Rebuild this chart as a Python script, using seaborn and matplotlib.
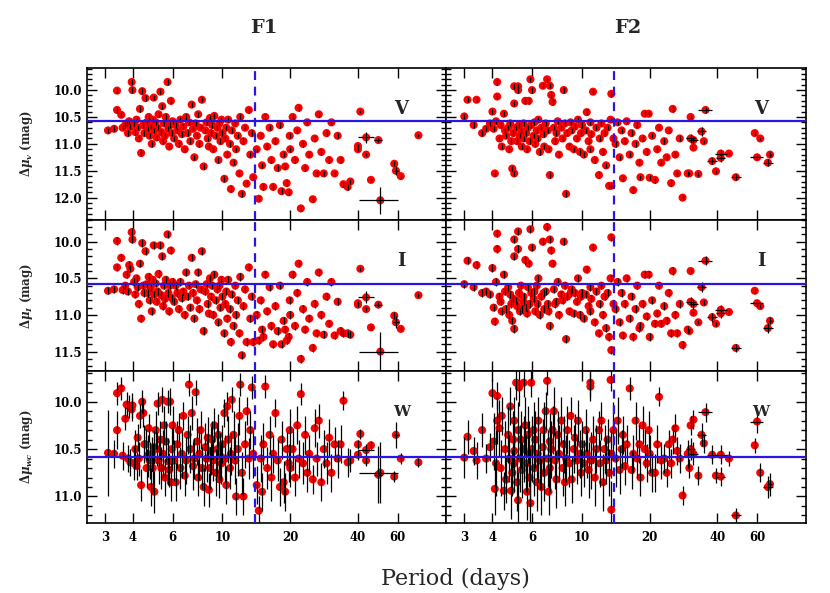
import matplotlib
matplotlib.use('Agg')
import matplotlib.pyplot as plt
from matplotlib.ticker import FixedLocator, FuncFormatter, MultipleLocator, NullLocator, FormatStrFormatter
import pandas as pd
import seaborn as sns

# ---------------- F1 field, ordinary stars ----------------
f1_per = [3.1, 3.4, 3.4, 3.55, 3.3, 3.6, 3.7, 3.75, 3.8, 3.85, 3.9, 3.95, 3.98,
          4.05, 4.1, 4.15, 4.2, 4.25, 4.3, 4.35, 4.4, 4.45, 4.5, 4.55, 4.6, 4.65, 4.7, 4.75, 4.8, 4.85, 4.9, 4.95, 4.98,
          5.05, 5.1, 5.15, 5.2, 5.3, 5.35, 5.4, 5.45, 5.5, 5.55, 5.6, 5.7, 5.75, 5.8, 5.85, 5.9, 5.95, 6.0,
          6.1, 6.2, 6.3, 6.4, 6.5, 6.6, 6.7, 6.8, 6.9, 7.0, 7.1, 7.2, 7.3, 7.4, 7.5, 7.6, 7.7, 7.8, 7.9, 8.0, 8.1, 8.25,
          8.4, 8.5, 8.6, 8.7, 8.8, 8.9, 9.0, 9.1, 9.2, 9.35, 9.5, 9.6, 9.7, 9.8, 9.9, 10.0,
          10.2, 10.3, 10.4, 10.5, 10.6, 10.8, 10.9, 11.0, 11.2, 11.4, 11.5, 11.7, 11.9, 12.0, 12.2, 12.4, 12.6, 12.8, 13.1, 13.3, 13.5, 13.7,
          14.2, 14.5, 14.8, 15.0, 15.2, 15.5, 15.8, 16.2, 16.5, 16.8, 17.2, 17.6, 18.0, 18.3, 18.7, 19.0, 19.3, 19.7, 19.9, 20.0,
          20.5, 21.0, 21.5, 21.8, 22.3, 22.8, 23.3, 23.8, 24.3, 25.2, 25.7, 26.2, 26.8, 27.5, 28.2, 29.0, 29.8, 30.5,
          31.5, 32.5, 33.5, 34.5, 36.0, 37.0]
f1_v = [10.75, 10.01, 10.37, 10.46, 10.72, 10.7, 10.65, 10.62, 10.8, 10.58, 10.68, 9.85, 10.0,
        10.62, 10.78, 10.55, 10.7, 10.9, 10.35, 11.17, 10.02, 10.65, 10.8, 10.15, 10.6, 10.72, 10.5, 10.85, 10.68, 11.0, 10.55, 10.14, 10.75,
        10.6, 10.88, 10.7, 10.45, 10.03, 10.78, 10.3, 10.95, 10.62, 10.85, 10.5, 9.85, 10.72, 11.05, 10.65, 10.2, 10.8, 10.58,
        10.9, 10.65, 10.75, 11.0, 10.55, 10.82, 10.68, 11.1, 10.5, 10.8, 10.6, 10.95, 10.27, 10.72, 11.25, 10.62, 10.85, 10.45, 11.0, 10.7, 10.18, 11.42,
        10.75, 10.6, 10.9, 11.05, 10.52, 10.8, 10.65, 11.1, 10.48, 10.85, 10.7, 11.3, 10.62, 10.95, 10.55, 10.8,
        11.65, 10.9, 10.7, 11.2, 10.55, 11.0, 11.84, 10.75, 11.35, 10.62, 11.1, 10.85, 11.55, 10.5, 11.93, 10.95, 10.7, 11.74, 10.37, 11.2, 10.8, 11.62,
        11.1, 12.02, 10.85, 11.4, 11.8, 10.5, 11.05, 10.7, 11.3, 11.8, 10.95, 11.45, 10.65, 11.88, 11.2, 11.42, 11.73, 11.9, 10.85, 11.1,
        10.5, 11.3, 10.75, 10.33, 12.2, 11.0, 11.45, 10.6, 11.2, 12.03, 10.9, 11.55, 10.45, 11.15, 11.55, 10.8, 11.3, 10.6,
        11.55, 10.85, 11.3, 11.75, 11.8, 11.7]
f1_i = [10.67, 9.99, 10.35, 10.22, 10.65, 10.66, 10.6, 10.45, 10.68, 10.32, 10.37, 9.87, 9.97,
        10.55, 10.72, 10.5, 10.62, 10.85, 10.3, 11.05, 10.02, 10.6, 10.7, 10.13, 10.58, 10.7, 10.48, 10.8, 10.63, 10.95, 10.52, 10.05, 10.72,
        10.57, 10.82, 10.68, 10.44, 10.05, 10.73, 10.2, 10.88, 10.6, 10.78, 10.52, 9.9, 10.7, 10.95, 10.6, 10.12, 10.77, 10.55,
        10.82, 10.6, 10.7, 10.92, 10.55, 10.77, 10.68, 11.0, 10.42, 10.75, 10.6, 10.9, 10.22, 10.7, 11.05, 10.58, 10.8, 10.42, 10.92, 10.65, 10.13, 11.22,
        10.68, 10.58, 10.85, 10.98, 10.5, 10.75, 10.6, 11.0, 10.45, 10.8, 10.65, 11.1, 10.6, 10.9, 10.52, 10.75,
        11.25, 10.85, 10.68, 11.05, 10.52, 10.92, 11.37, 10.72, 11.15, 10.6, 11.0, 10.8, 11.25, 10.48, 11.55, 10.88, 10.65, 11.37, 10.35, 11.05, 10.75, 11.37,
        11.0, 11.35, 10.8, 11.2, 11.3, 10.45, 10.95, 10.62, 11.15, 11.4, 10.88, 11.22, 10.6, 11.4, 11.08, 11.2, 11.35, 11.3, 10.8, 11.0,
        10.45, 11.15, 10.7, 10.3, 11.6, 10.92, 11.2, 10.55, 11.05, 11.45, 10.85, 11.25, 10.42, 11.0, 11.27, 10.75, 11.12, 10.55,
        11.28, 10.82, 11.22, 11.25, 11.25, 11.27]
f1_w = [10.54, 10.3, 9.91, 9.86, 10.55, 10.57, 10.18, 10.03, 10.6, 10.05, 10.64, 10.08, 10.04,
        10.65, 10.5, 10.68, 10.38, 10.6, 10.15, 10.88, 10.0, 10.12, 10.45, 10.45, 10.7, 10.57, 10.28, 10.62, 10.9, 10.55, 10.7, 10.48, 10.95,
        10.3, 10.5, 10.02, 10.62, 10.4, 10.7, 9.98, 10.55, 10.25, 10.8, 10.42, 10.0, 10.63, 10.72, 10.0, 10.85, 10.5, 10.25,
        10.62, 10.85, 10.45, 10.3, 10.7, 10.55, 10.15, 10.78, 10.62, 10.35, 9.82, 10.5, 10.12, 10.68, 10.6, 9.9, 10.42, 10.8, 10.55, 10.3, 10.7, 10.9,
        10.48, 10.6, 10.38, 10.93, 10.7, 10.52, 10.4, 10.62, 10.25, 10.75, 10.5, 10.35, 10.82, 10.58, 10.65, 10.45,
        10.12, 10.6, 10.88, 10.05, 10.4, 10.7, 10.55, 9.98, 10.35, 10.62, 11.0, 10.5, 10.15, 9.82, 10.75, 11.0, 10.45, 10.1, 10.6, 10.3, 9.85, 10.55,
        10.88, 11.15, 10.6, 10.95, 10.45, 9.84, 10.7, 10.35, 10.8, 10.55, 10.12, 10.62, 10.9, 10.4, 10.85, 10.95, 10.5, 10.65, 10.3, 10.7,
        10.5, 10.8, 10.25, 10.6, 9.92, 10.65, 10.35, 10.75, 10.55, 10.82, 10.28, 10.6, 10.2, 10.85, 10.5, 10.65, 10.38, 10.75,
        10.45, 10.6, 10.45, 9.99, 10.64, 10.62]
f1_ew = [0.45, 0.2, 0.12, 0.12, 0.15, 0.15, 0.12, 0.13, 0.14, 0.12, 0.14, 0.12, 0.13,
         0.18, 0.2, 0.15, 0.14, 0.18, 0.13, 0.17, 0.12, 0.15, 0.2, 0.16, 0.2, 0.22, 0.15, 0.2, 0.2, 0.18, 0.25, 0.18, 0.22,
         0.2, 0.18, 0.12, 0.25, 0.2, 0.22, 0.13, 0.25, 0.2, 0.2, 0.22, 0.12, 0.25, 0.18, 0.14, 0.2, 0.22, 0.2,
         0.22, 0.2, 0.25, 0.18, 0.22, 0.25, 0.15, 0.22, 0.25, 0.2, 0.12, 0.25, 0.18, 0.25, 0.22, 0.13, 0.25, 0.2, 0.28, 0.2, 0.22, 0.2,
         0.25, 0.25, 0.22, 0.18, 0.22, 0.25, 0.2, 0.22, 0.18, 0.25, 0.28, 0.22, 0.2, 0.25, 0.22, 0.2,
         0.15, 0.25, 0.2, 0.15, 0.25, 0.22, 0.22, 0.13, 0.25, 0.25, 0.2, 0.28, 0.2, 0.12, 0.22, 0.2, 0.25, 0.15, 0.22, 0.2, 0.12, 0.25,
         0.2, 0.15, 0.25, 0.2, 0.22, 0.12, 0.22, 0.2, 0.25, 0.2, 0.15, 0.22, 0.2, 0.2, 0.22, 0.2, 0.18, 0.2, 0.22, 0.2,
         0.22, 0.2, 0.2, 0.2, 0.12, 0.22, 0.2, 0.2, 0.2, 0.15, 0.2, 0.18, 0.18, 0.2, 0.2, 0.22, 0.2, 0.2,
         0.18, 0.2, 0.2, 0.1, 0.15, 0.12]

# F1 long-period stars (period errors visible)
f1_lp_per = [40.0, 40.0, 41.0, 43.5, 43.5, 45.7, 49.3, 50.3, 58.0, 59.0, 62.0, 74.3]
f1_lp_eper = [0, 0, 0, 3.5, 0, 0, 2.0, 10.0, 0, 2.0, 0, 0]
f1_lp_v = [11.04, 11.1, 10.4, 10.88, 11.2, 11.67, 10.93, 12.05, 11.37, 11.5, 11.6, 10.84]
f1_lp_ev = [0.03, 0.03, 0.03, 0.1, 0.03, 0.03, 0.03, 0.25, 0.05, 0.08, 0.03, 0.03]
f1_lp_i = [10.84, 10.86, 10.37, 10.76, 10.92, 11.17, 10.86, 11.5, 11.01, 11.1, 11.19, 10.73]
f1_lp_ei = [0.03, 0.03, 0.03, 0.08, 0.03, 0.03, 0.03, 0.27, 0.05, 0.08, 0.03, 0.03]
f1_lp_w = [10.45, 10.56, 10.34, 10.51, 10.62, 10.46, 10.77, 10.75, 10.79, 10.35, 10.6, 10.64]
f1_lp_ew = [0.05, 0.05, 0.05, 0.06, 0.06, 0.05, 0.3, 0.32, 0.06, 0.14, 0.06, 0.05]

# ---------------- F2 field, ordinary stars ----------------
f2_per = [3.0, 3.1, 3.3, 3.4, 3.6, 3.75, 3.9,
          4.0, 4.05, 4.1, 4.15, 4.2, 4.2, 4.3, 4.35, 4.4, 4.5, 4.55, 4.6, 4.7, 4.75, 4.8, 4.85, 4.9, 4.95,
          5.0, 5.0, 5.0, 5.1, 5.15, 5.2, 5.2, 5.25, 5.3, 5.35, 5.4, 5.5, 5.5, 5.6, 5.65, 5.7, 5.75, 5.8, 5.85, 5.9, 5.95, 6.0,
          6.1, 6.15, 6.2, 6.3, 6.35, 6.4, 6.5, 6.6, 6.7, 6.75, 6.8, 6.9, 7.0, 7.05, 7.1, 7.2, 7.2, 7.3, 7.4, 7.5, 7.6, 7.7, 7.8, 7.9,
          8.1, 8.2, 8.3, 8.4, 8.5, 8.6, 8.8, 8.9, 9.0, 9.2, 9.3, 9.5, 9.6, 9.8, 9.9, 10.0,
          10.2, 10.4, 10.5, 10.7, 10.9, 10.9, 11.0, 11.2, 11.4, 11.6, 11.9, 12.0, 12.2, 12.4, 12.6, 12.8, 13.0, 13.2, 13.4, 13.5, 13.5, 13.8,
          14.1, 14.4, 14.7, 15.0, 15.2, 15.5, 15.8, 16.3, 16.6, 16.9, 17.3, 17.6, 18.0, 18.2, 18.6, 19.0, 19.4, 19.8, 20.0, 20.5,
          21.1, 21.6, 22.0, 22.5, 23.2, 23.8, 24.3, 24.9, 25.3, 26.0, 26.5, 27.2, 28.0, 29.5]
f2_v = [10.49, 10.18, 10.65, 10.18, 10.8, 10.72, 10.62,
        10.4, 10.72, 11.55, 10.58, 9.85, 10.12, 10.9, 10.65, 11.05, 10.44, 10.75, 10.85, 10.7, 11.1, 10.62, 10.95, 11.46, 10.8,
        9.93, 11.55, 10.25, 10.7, 10.95, 9.93, 10.0, 10.65, 10.85, 10.75, 11.05, 10.62, 10.9, 10.2, 10.8, 11.1, 10.7, 10.2, 10.95, 9.8, 10.65, 10.0,
        10.85, 10.6, 11.0, 10.75, 10.9, 10.55, 11.15, 10.7, 9.92, 10.82, 11.05, 10.62, 9.8, 10.75, 11.1, 9.92, 11.58, 10.09, 10.22, 10.7, 10.95, 10.8, 10.58, 11.2,
        10.7, 10.9, 10.0, 10.62, 11.93, 10.8, 11.05, 10.6, 10.75, 11.1, 10.68, 10.9, 10.55, 11.15, 10.8, 10.65,
        11.2, 10.75, 10.41, 10.95, 10.6, 11.1, 10.82, 10.03, 11.3, 10.7, 11.58, 10.9, 10.62, 11.15, 10.8, 11.4, 10.7, 11.78, 10.55, 10.07, 11.78, 10.9,
        11.0, 10.6, 11.25, 10.75, 11.64, 10.95, 10.58, 11.2, 10.8, 11.86, 11.0, 10.65, 11.35, 11.62, 10.9, 10.44, 11.15, 10.44, 11.63, 10.85,
        11.67, 11.1, 10.7, 11.35, 10.95, 11.25, 10.75, 11.73, 10.35, 11.2, 11.55, 10.9, 12.0, 11.55]
f2_i = [10.58, 10.26, 10.62, 10.32, 10.7, 10.68, 10.72,
        10.36, 10.9, 11.09, 10.55, 9.89, 10.1, 10.75, 10.82, 10.95, 10.45, 10.68, 10.92, 10.62, 11.0, 10.72, 10.85, 11.08, 10.78,
        9.97, 11.19, 10.2, 10.8, 10.88, 9.86, 10.1, 10.7, 10.95, 10.6, 10.92, 10.75, 10.82, 10.25, 10.9, 10.98, 10.62, 10.3, 10.85, 9.83, 10.7, 10.08,
        10.78, 10.68, 10.95, 10.6, 10.85, 10.5, 11.0, 10.75, 10.0, 10.7, 10.92, 10.68, 9.8, 10.85, 10.95, 9.97, 11.15, 10.12, 10.3, 10.65, 10.85, 10.82, 10.55, 11.0,
        10.72, 10.8, 10.0, 10.6, 11.33, 10.75, 10.95, 10.7, 10.65, 10.98, 10.7, 10.82, 10.5, 11.0, 10.75, 10.7,
        11.05, 10.72, 10.38, 10.88, 10.62, 10.95, 10.78, 10.08, 11.1, 10.68, 11.25, 10.85, 10.6, 11.0, 10.75, 11.18, 10.7, 11.3, 10.5, 9.94, 11.48, 10.85,
        10.92, 10.55, 11.1, 10.7, 11.28, 10.85, 10.5, 11.05, 10.75, 11.3, 10.92, 10.6, 11.18, 11.15, 10.85, 10.45, 11.02, 10.45, 11.3, 10.8,
        11.12, 10.98, 10.6, 11.12, 10.88, 11.08, 10.7, 11.25, 10.4, 11.0, 11.25, 10.85, 11.41, 11.2]
f2_w = [10.59, 10.37, 10.52, 10.62, 10.3, 10.6, 10.48,
        9.91, 10.42, 10.92, 10.65, 9.94, 10.2, 10.28, 10.7, 10.15, 10.94, 10.5, 10.82, 10.35, 10.6, 10.05, 10.94, 10.75, 10.4,
        10.65, 10.2, 10.52, 9.8, 10.85, 11.04, 10.3, 9.85, 10.6, 10.4, 10.72, 9.8, 10.5, 10.25, 10.65, 10.95, 10.35, 10.55, 10.8, 11.07, 9.8, 10.5,
        10.3, 10.7, 10.4, 10.85, 10.55, 10.2, 10.62, 10.9, 10.48, 10.3, 10.75, 10.1, 9.78, 10.6, 10.95, 10.42, 10.7, 10.5, 10.3, 10.1, 10.62, 10.82, 10.35, 10.55,
        10.2, 10.7, 10.45, 10.85, 10.6, 10.3, 10.65, 10.15, 10.82, 10.5, 10.38, 10.62, 10.2, 10.55, 10.75, 10.45,
        10.65, 10.3, 10.55, 10.72, 9.8, 9.84, 10.62, 10.4, 10.8, 10.5, 10.3, 10.65, 10.2, 10.85, 10.5, 10.62, 10.4, 10.75, 9.77, 11.14, 10.55, 10.3,
        10.6, 10.2, 10.72, 10.5, 10.35, 10.68, 10.45, 9.86, 10.72, 10.55, 10.2, 10.6, 10.45, 10.8, 10.25, 10.5, 10.65, 10.3, 10.55, 10.75,
        10.75, 10.45, 9.95, 10.62, 10.6, 10.75, 10.45, 10.65, 10.4, 10.28, 10.52, 10.6, 10.99, 10.55]
f2_ew = [0.22, 0.18, 0.15, 0.2, 0.18, 0.15, 0.15,
         0.15, 0.3, 0.28, 0.35, 0.15, 0.25, 0.3, 0.3, 0.2, 0.2, 0.3, 0.25, 0.3, 0.25, 0.2, 0.3, 0.25, 0.3,
         0.3, 0.25, 0.3, 0.18, 0.3, 0.3, 0.3, 0.2, 0.35, 0.3, 0.3, 0.15, 0.35, 0.3, 0.3, 0.3, 0.3, 0.35, 0.3, 0.3, 0.15, 0.35,
         0.3, 0.3, 0.3, 0.3, 0.3, 0.25, 0.3, 0.3, 0.3, 0.3, 0.3, 0.2, 0.15, 0.3, 0.25, 0.3, 0.25, 0.3, 0.25, 0.25, 0.3, 0.3, 0.25, 0.3,
         0.25, 0.3, 0.3, 0.25, 0.25, 0.25, 0.25, 0.2, 0.25, 0.25, 0.25, 0.25, 0.22, 0.25, 0.25, 0.25,
         0.25, 0.22, 0.25, 0.3, 0.15, 0.15, 0.3, 0.25, 0.3, 0.25, 0.2, 0.25, 0.2, 0.3, 0.25, 0.25, 0.22, 0.25, 0.12, 0.3, 0.25, 0.3,
         0.3, 0.25, 0.25, 0.2, 0.2, 0.2, 0.2, 0.12, 0.2, 0.2, 0.2, 0.2, 0.2, 0.2, 0.2, 0.2, 0.2, 0.2, 0.2, 0.2,
         0.2, 0.2, 0.1, 0.2, 0.15, 0.15, 0.15, 0.15, 0.15, 0.15, 0.15, 0.15, 0.1, 0.15]

# F2 long-period stars
f2_lp_per = [30.0, 30.4, 30.4, 31.3, 31.3, 32.9, 34.0, 34.8, 35.4, 37.9, 39.4, 41.4, 41.4, 45.0, 48.3, 58.6, 60.0, 62.0, 67.0, 68.5]
f2_lp_eper = [0, 0, 1.5, 1.5, 0, 0, 1.5, 0, 2.5, 2.0, 0, 2.5, 2.0, 0, 2.5, 0, 4.0, 0, 3.5, 1.5]
f2_lp_v = [11.55, 10.5, 10.9, 10.93, 11.07, 11.56, 10.77, 10.95, 10.37, 11.32, 11.51, 11.18, 11.26, 11.18, 11.62, 10.8, 11.25, 10.9, 11.35, 11.2]
f2_lp_ev = [0.03, 0.03, 0.08, 0.08, 0.03, 0.03, 0.08, 0.03, 0.06, 0.06, 0.03, 0.07, 0.07, 0.03, 0.06, 0.03, 0.05, 0.03, 0.07, 0.05]
f2_lp_i = [11.22, 10.4, 10.82, 10.85, 10.97, 11.1, 10.62, 10.83, 10.26, 11.03, 11.12, 10.93, 10.98, 10.96, 11.45, 10.67, 10.84, 10.88, 11.18, 11.08]
f2_lp_ei = [0.03, 0.03, 0.07, 0.07, 0.03, 0.03, 0.07, 0.03, 0.06, 0.06, 0.03, 0.06, 0.06, 0.03, 0.06, 0.03, 0.05, 0.03, 0.07, 0.05]
f2_lp_w = [10.7, 10.25, 10.5, 10.55, 10.19, 10.78, 10.35, 10.44, 10.11, 10.56, 10.78, 10.56, 10.79, 10.6, 11.2, 10.46, 10.21, 10.75, 10.9, 10.87]
f2_lp_ew = [0.1, 0.1, 0.12, 0.12, 0.1, 0.1, 0.12, 0.1, 0.1, 0.1, 0.08, 0.1, 0.1, 0.08, 0.08, 0.08, 0.12, 0.1, 0.12, 0.12]

mu_ref = 10.58      # horizontal reference line
p_break = 13.9      # dashed period break
e_opt = 0.05        # typical V/I error of ordinary stars

bands = ['V', 'I', 'W']
band_labels = ['V', 'I', 'W']
ylabels = [r'$\Delta\mu_{v}$ (mag)', r'$\Delta\mu_{I}$ (mag)', r'$\Delta\mu_{wc}$ (mag)']
ylims = [(12.41, 9.59), (11.77, 9.70), (11.28, 9.68)]
field_names = ['F1', 'F2']
period_ticks = [3, 4, 6, 10, 20, 40, 60]


def build(per, v, i, w, ew, lp_per, lp_eper, lp_v, lp_ev, lp_i, lp_ei, lp_w, lp_ew):
    main = pd.DataFrame({'per': per, 'V': v, 'I': i, 'W': w, 'eW': ew})
    main['eper'] = 0.0
    main['eV'] = e_opt
    main['eI'] = e_opt
    lp = pd.DataFrame({'per': lp_per, 'eper': lp_eper, 'V': lp_v, 'eV': lp_ev,
                       'I': lp_i, 'eI': lp_ei, 'W': lp_w, 'eW': lp_ew})
    return pd.concat([main, lp], ignore_index=True)


f1 = build(f1_per, f1_v, f1_i, f1_w, f1_ew, f1_lp_per, f1_lp_eper, f1_lp_v, f1_lp_ev,
           f1_lp_i, f1_lp_ei, f1_lp_w, f1_lp_ew)
f2 = build(f2_per, f2_v, f2_i, f2_w, f2_ew, f2_lp_per, f2_lp_eper, f2_lp_v, f2_lp_ev,
           f2_lp_i, f2_lp_ei, f2_lp_w, f2_lp_ew)

sns.set_style('ticks')
plt.rcParams['font.family'] = ['DejaVu Serif']
plt.rcParams['font.weight'] = 'bold'
plt.rcParams['mathtext.fontset'] = 'dejavuserif'

BLUE = '#2a16e0'

fig, axes = plt.subplots(3, 2, figsize=(8.3, 5.93), dpi=100, sharex=True, sharey='row')
fig.subplots_adjust(left=0.1048, right=0.9711, bottom=0.118, top=0.8853, wspace=0, hspace=0)

for r, band in enumerate(bands):
    for c, df in enumerate([f1, f2]):
        ax = axes[r, c]
        ax.set_xscale('log')
        sns.scatterplot(data=df, x='per', y=band, ax=ax, color='#ff0000', s=34,
                        edgecolor='none', linewidth=0, zorder=2, legend=False)
        ax.errorbar(df['per'], df[band], yerr=df['e' + band], xerr=df['eper'],
                    fmt='none', ecolor='black', elinewidth=0.9, capsize=0, zorder=3)
        ax.axhline(mu_ref, color=BLUE, lw=1.6, zorder=4)
        ax.axvline(p_break, color=BLUE, lw=1.6, ls=(0, (4, 3)), zorder=4)

        ax.set_xlim(2.5, 99)
        ax.set_ylim(*ylims[r])
        ax.xaxis.set_major_locator(FixedLocator(period_ticks))
        ax.xaxis.set_major_formatter(FuncFormatter(lambda v, _: f'{v:g}'))
        ax.xaxis.set_minor_locator(NullLocator())
        ax.yaxis.set_major_locator(MultipleLocator(0.5))
        ax.yaxis.set_minor_locator(MultipleLocator(0.1))
        ax.yaxis.set_major_formatter(FormatStrFormatter('%.1f'))
        ax.tick_params(which='both', direction='in', top=True, right=True, width=1.0,
                       labelsize=8.5, colors='black')
        ax.tick_params(which='major', length=7)
        ax.tick_params(which='minor', length=3.5)
        ax.tick_params(axis='x', pad=6)
        for sp in ax.spines.values():
            sp.set_linewidth(1.2)
            sp.set_color('black')

        ax.set_xlabel('')
        if c == 0:
            ax.set_ylabel(ylabels[r], fontsize=8.5, fontweight='bold')
            ax.yaxis.set_label_coords(-0.145, 0.5)
        else:
            ax.set_ylabel('')

        ax.text(0.875, 0.73, band_labels[r], transform=ax.transAxes,
                fontsize=13 if band != 'W' else 11, fontweight='bold',
                ha='center', va='center')

fig.text(264 / 830, 1 - 28 / 593, field_names[0], ha='center', va='center', fontsize=14)
fig.text(628 / 830, 1 - 28 / 593, field_names[1], ha='center', va='center', fontsize=14)
fig.text(455 / 830, 1 - 579 / 593, 'Period (days)', ha='center', va='center',
         fontsize=16, fontweight='normal')

fig.savefig('out.png', dpi=100)
